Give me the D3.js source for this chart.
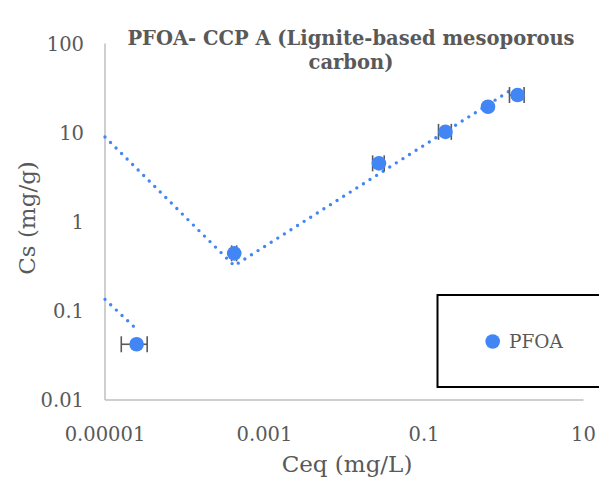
<!DOCTYPE html>
<html>
<head>
<meta charset="utf-8">
<script src="https://cdn.jsdelivr.net/npm/d3@7"></script>
<style>
  html, body { margin: 0; padding: 0; background: #fff; }
  svg { display: block; }
  text { font-family: "DejaVu Serif", "Liberation Serif", serif; fill: #595959; }
</style>
</head>
<body>
<svg id="chart" width="599" height="478"></svg>
<script>
// Isotherm points (PFOA on lignite-based mesoporous carbon)
const ceq    = [2.49e-5, 4.17e-4, 0.0272, 0.186, 0.635, 1.49];   // mg/L
const cs     = [0.0422, 0.442, 4.52, 10.2, 19.5, 26.4];          // mg/g
const ceqErr = [0.89e-5, 0.3e-4, 0.0045, 0.034, 0, 0.31];        // ± on Ceq

// Dotted trend lines (power fits, straight on log–log axes)
const trendLowX  = [1e-5, 2.48e-5];
const trendLowY  = [0.1346, 0.0625];
const trendMainX = [1e-5, 4.17e-4, 1.16];
const trendMainY = [8.93, 0.321, 29.0];

// Axis ticks
const xTicks = [1e-5, 1e-3, 1e-1, 10];
const xTickLabels = ["0.00001", "0.001", "0.1", "10"];
const yTicks = [0.01, 0.1, 1, 10, 100];
const yTickLabels = ["0.01", "0.1", "1", "10", "100"];

const titleLines = ["PFOA- CCP A (Lignite-based mesoporous", "carbon)"];
const seriesName = "PFOA";

const blue = "#4285f4";
const svg = d3.select("#chart");

const x = d3.scaleLog().domain([1e-5, 10]).range([105, 583.5]);
const y = d3.scaleLog().domain([0.01, 100]).range([400, 43.5]);

// axis lines
svg.append("line")
  .attr("x1", x(1e-5)).attr("x2", x(10))
  .attr("y1", y(0.01)).attr("y2", y(0.01))
  .attr("stroke", "#bfbfbf").attr("stroke-width", 1.5);
svg.append("line")
  .attr("x1", x(1e-5)).attr("x2", x(1e-5))
  .attr("y1", y(0.01)).attr("y2", y(100))
  .attr("stroke", "#bfbfbf").attr("stroke-width", 1.5);

// tick labels
svg.append("g").selectAll("text").data(xTicks).join("text")
  .attr("x", d => x(d)).attr("y", 441)
  .attr("text-anchor", "middle")
  .attr("font-size", 19.5)
  .text((d, i) => xTickLabels[i]);

svg.append("g").selectAll("text").data(yTicks).join("text")
  .attr("x", 84).attr("y", d => y(d) + 7)
  .attr("text-anchor", "end")
  .attr("font-size", 19.5)
  .text((d, i) => yTickLabels[i]);

// axis titles
svg.append("text")
  .attr("x", 347).attr("y", 472)
  .attr("text-anchor", "middle")
  .attr("font-size", 23)
  .text("Ceq (mg/L)");
svg.append("text")
  .attr("transform", "translate(35,218) rotate(-90)")
  .attr("text-anchor", "middle")
  .attr("font-size", 23)
  .text("Cs (mg/g)");

// chart title
svg.append("g").selectAll("text").data(titleLines).join("text")
  .attr("x", 351).attr("y", (d, i) => 45 + i * 24)
  .attr("text-anchor", "middle")
  .attr("font-size", 19.5)
  .attr("font-weight", "bold")
  .text(d => d);

// trend lines
const line = d3.line().x(d => x(d[0])).y(d => y(d[1]));
[[trendLowX, trendLowY], [trendMainX, trendMainY]].forEach(([tx, ty]) => {
  svg.append("path")
    .datum(tx.map((v, i) => [v, ty[i]]))
    .attr("d", line)
    .attr("fill", "none")
    .attr("stroke", blue)
    .attr("stroke-width", 3.4)
    .attr("stroke-linecap", "round")
    .attr("stroke-dasharray", "0 7.8");
});

// horizontal error bars
const pts = ceq.map((v, i) => ({ x: v, y: cs[i], e: ceqErr[i] }));
const eb = svg.append("g").attr("stroke", "#595959").attr("stroke-width", 1.6);
pts.filter(p => p.e > 0).forEach(p => {
  const x0 = x(p.x - p.e), x1 = x(p.x + p.e), yy = y(p.y);
  eb.append("line").attr("x1", x0).attr("x2", x1).attr("y1", yy).attr("y2", yy);
  eb.append("line").attr("x1", x0).attr("x2", x0).attr("y1", yy - 8).attr("y2", yy + 8);
  eb.append("line").attr("x1", x1).attr("x2", x1).attr("y1", yy - 8).attr("y2", yy + 8);
});

// markers
svg.append("g").selectAll("circle").data(pts).join("circle")
  .attr("cx", d => x(d.x)).attr("cy", d => y(d.y))
  .attr("r", 7.3)
  .attr("fill", blue);

// legend
const lg = svg.append("g");
lg.append("rect")
  .attr("x", 437.5).attr("y", 295)
  .attr("width", 180).attr("height", 92)
  .attr("fill", "#fff").attr("stroke", "#000").attr("stroke-width", 2);
lg.append("circle").attr("cx", 492.7).attr("cy", 341.5).attr("r", 7.3).attr("fill", blue);
lg.append("text")
  .attr("x", 509).attr("y", 348)
  .attr("font-size", 18.5)
  .text(seriesName);
</script>
</body>
</html>
